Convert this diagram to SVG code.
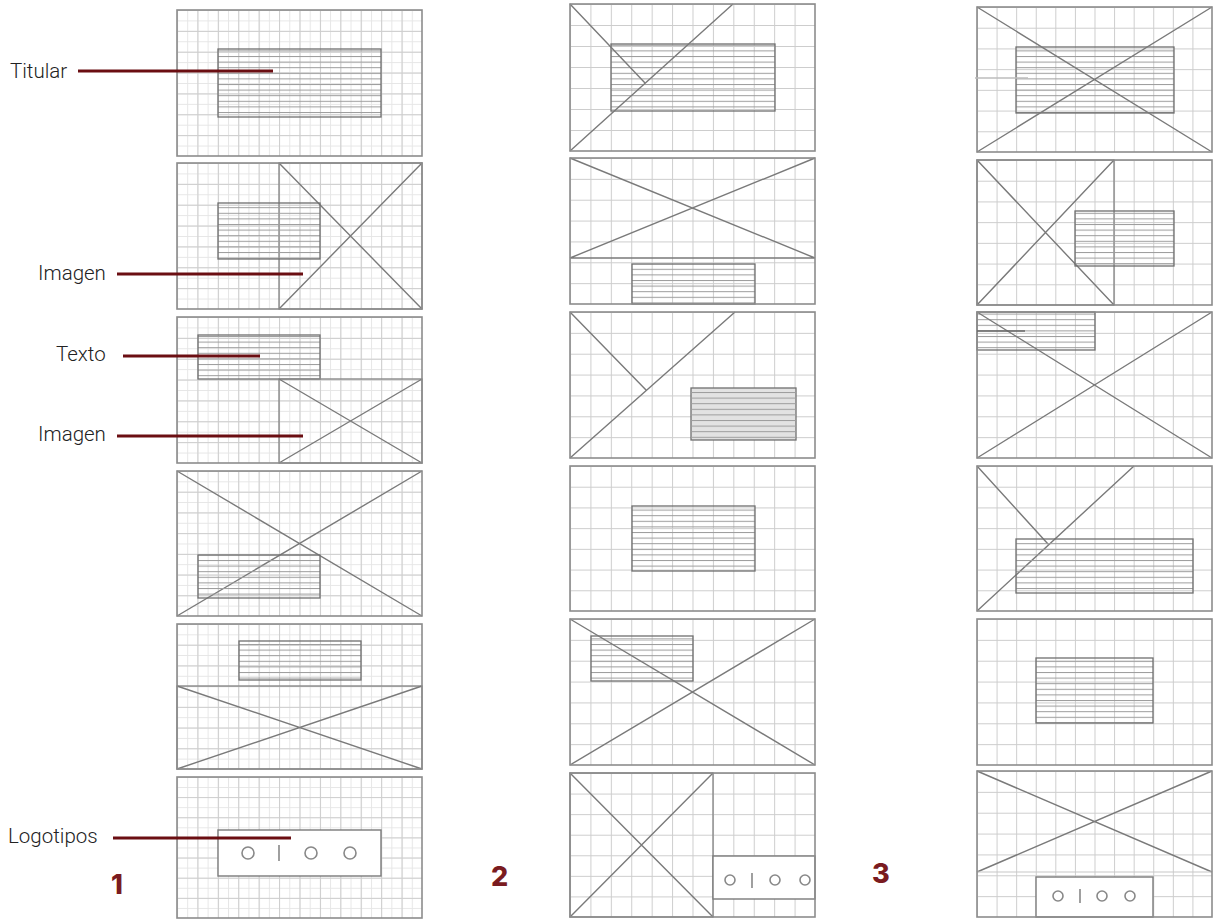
<svg xmlns="http://www.w3.org/2000/svg" width="1217" height="920" viewBox="0 0 1217 920">
<defs>
<pattern id="grid" patternUnits="objectBoundingBox" width="0.0833333" height="0.1428571">
<path d="M0 0.5H60M0.5 0V60" stroke="#cdcdcd" stroke-width="1" fill="none"/>
</pattern>
<pattern id="gridfine" patternUnits="objectBoundingBox" width="0.0416667" height="0.0714286">
<path d="M0 0.5H60M0.5 0V60" stroke="#e6e6e6" stroke-width="1" fill="none"/>
</pattern>
<pattern id="hatch" patternUnits="userSpaceOnUse" width="10" height="5.6">
<path d="M0 0.5H10" stroke="#9c9c9c" stroke-width="1" fill="none"/>
</pattern>
<linearGradient id="fade" x1="0" x2="1" y1="0" y2="0">
<stop offset="0" stop-color="#777"/>
<stop offset="1" stop-color="#fff"/>
</linearGradient>
<linearGradient id="fadeL" x1="0" x2="1" y1="0" y2="0">
<stop offset="0" stop-color="#fff"/>
<stop offset="1" stop-color="#999"/>
</linearGradient>
</defs>
<style>
.bg{fill:#fff}
.g{fill:url(#grid)}
.gf{fill:url(#gridfine)}
.fr{fill:none;stroke:#8c8c8c;stroke-width:1.6}
.im{fill:none;stroke:#8a8a8a;stroke-width:1.4}
.d{stroke:#7a7a7a;stroke-width:1.4;fill:none}
.tb{fill:url(#hatch);stroke:#6f6f6f;stroke-width:1.3}
.tbg{fill:#e2e2e2;stroke:#6f6f6f;stroke-width:1.3}
.lg{fill:#fff;stroke:#7a7a7a;stroke-width:1.4}
.c{fill:none;stroke:#888;stroke-width:1.6}
.lbl{font-family:Roboto,"Liberation Sans",sans-serif;font-size:20.5px;font-weight:300;fill:#222}
.num{font-family:Inter,"Liberation Sans",sans-serif;font-size:27px;font-weight:800;fill:#7a1b20}
.ldr{stroke:#6b0e12;stroke-width:3;fill:none}
</style>
<rect width="1217" height="920" fill="#fff"/>

<!-- Column 1 -->
<g id="c1p1">
<rect class="bg" x="177" y="10" width="245" height="146"/>
<rect class="gf" x="177" y="10" width="245" height="146"/>
<rect class="g" x="177" y="10" width="245" height="146"/>
<rect class="tb" x="218" y="49" width="163" height="68"/>
<rect class="fr" x="177" y="10" width="245" height="146"/>
</g>
<g id="c1p2">
<rect class="bg" x="177" y="163" width="245" height="146"/>
<rect class="gf" x="177" y="163" width="245" height="146"/>
<rect class="g" x="177" y="163" width="245" height="146"/>
<rect class="im" x="279" y="163" width="143" height="146"/>
<path class="d" d="M279 163L422 309M279 309L422 163"/>
<rect class="tb" x="218" y="203" width="102" height="56"/>
<rect class="fr" x="177" y="163" width="245" height="146"/>
</g>
<g id="c1p3">
<rect class="bg" x="177" y="317" width="245" height="146"/>
<rect class="gf" x="177" y="317" width="245" height="146"/>
<rect class="g" x="177" y="317" width="245" height="146"/>
<rect class="tb" x="198" y="335" width="122" height="44"/>
<rect class="im" x="279" y="379" width="143" height="84"/>
<path class="d" d="M279 379L422 463M279 463L422 379"/>
<rect class="fr" x="177" y="317" width="245" height="146"/>
</g>
<g id="c1p4">
<rect class="bg" x="177" y="471" width="245" height="145"/>
<rect class="gf" x="177" y="471" width="245" height="145"/>
<rect class="g" x="177" y="471" width="245" height="145"/>
<path class="d" d="M177 471L422 616M177 616L422 471"/>
<rect class="tb" x="198" y="555" width="122" height="43"/>
<rect class="fr" x="177" y="471" width="245" height="145"/>
</g>
<g id="c1p5">
<rect class="bg" x="177" y="624" width="245" height="145"/>
<rect class="gf" x="177" y="624" width="245" height="145"/>
<rect class="g" x="177" y="624" width="245" height="145"/>
<rect class="tb" x="239" y="641" width="122" height="39"/>
<rect class="im" x="177" y="686" width="245" height="83"/>
<path class="d" d="M177 686L422 769M177 769L422 686"/>
<rect class="fr" x="177" y="624" width="245" height="145"/>
</g>
<g id="c1p6">
<rect class="bg" x="177" y="777" width="245" height="141"/>
<rect class="gf" x="177" y="777" width="245" height="141"/>
<rect class="g" x="177" y="777" width="245" height="141"/>
<rect class="lg" x="218" y="830" width="163" height="46"/>
<circle class="c" cx="248" cy="853" r="6"/>
<path class="c" d="M279 845V861"/>
<circle class="c" cx="311" cy="853" r="6"/>
<circle class="c" cx="350" cy="853" r="6"/>
<rect class="fr" x="177" y="777" width="245" height="141"/>
</g>

<!-- Column 2 -->
<g id="c2p1">
<rect class="bg" x="570" y="4" width="245" height="147"/>
<rect class="g" x="570" y="4" width="245" height="147"/>
<rect class="tb" x="611" y="44" width="164" height="67"/>
<path class="d" d="M570 4L645 83M570 151L733 4"/>
<rect class="fr" x="570" y="4" width="245" height="147"/>
</g>
<g id="c2p2">
<rect class="bg" x="570" y="158" width="245" height="146"/>
<rect class="g" x="570" y="158" width="245" height="146"/>
<path class="d" d="M570 158L815 258M570 258L815 158M570 258H815"/>
<rect class="tb" x="632" y="264" width="123" height="40"/>
<rect class="fr" x="570" y="158" width="245" height="146"/>
</g>
<g id="c2p3">
<rect class="bg" x="570" y="312" width="245" height="146"/>
<rect class="g" x="570" y="312" width="245" height="146"/>
<path class="d" d="M570 312L646 390M570 458L735 312"/>
<rect class="tbg" x="691" y="388" width="105" height="52"/>
<rect class="tb" x="691" y="388" width="105" height="52" style="stroke:none"/>
<rect class="fr" x="570" y="312" width="245" height="146"/>
</g>
<g id="c2p4">
<rect class="bg" x="570" y="466" width="245" height="145"/>
<rect class="g" x="570" y="466" width="245" height="145"/>
<rect class="tb" x="632" y="506" width="123" height="65"/>
<rect class="fr" x="570" y="466" width="245" height="145"/>
</g>
<g id="c2p5">
<rect class="bg" x="570" y="619" width="245" height="146"/>
<rect class="g" x="570" y="619" width="245" height="146"/>
<rect class="tb" x="591" y="636" width="102" height="45"/>
<path class="d" d="M570 619L815 765M570 765L815 619"/>
<rect class="fr" x="570" y="619" width="245" height="146"/>
</g>
<g id="c2p6">
<rect class="bg" x="570" y="773" width="245" height="144"/>
<rect class="g" x="570" y="773" width="245" height="144"/>
<rect class="im" x="570" y="773" width="143" height="144"/>
<path class="d" d="M570 773L713 917M570 917L713 773"/>
<rect class="lg" x="713" y="856" width="102" height="43"/>
<circle class="c" cx="730" cy="880" r="5"/>
<path class="c" d="M752 873V888"/>
<circle class="c" cx="775" cy="880" r="5"/>
<circle class="c" cx="805" cy="880" r="5"/>
<rect class="fr" x="570" y="773" width="245" height="144"/>
</g>

<!-- Column 3 -->
<g id="c3p1">
<rect class="bg" x="977" y="7" width="235" height="145"/>
<rect class="g" x="977" y="7" width="235" height="145"/>
<rect class="tb" x="1016" y="47" width="158" height="66"/>
<path class="d" d="M977 7L1212 152M977 152L1212 7"/>
<rect class="fr" x="977" y="7" width="235" height="145"/>
</g>
<g id="c3p2">
<rect class="bg" x="977" y="160" width="235" height="145"/>
<rect class="g" x="977" y="160" width="235" height="145"/>
<rect class="im" x="977" y="160" width="137" height="145"/>
<path class="d" d="M977 160L1114 305M977 305L1114 160"/>
<rect class="tb" x="1075" y="211" width="99" height="55"/>
<rect class="fr" x="977" y="160" width="235" height="145"/>
</g>
<g id="c3p3">
<rect class="bg" x="977" y="312" width="235" height="146"/>
<rect class="g" x="977" y="312" width="235" height="146"/>
<rect class="tb" x="977" y="312" width="118" height="38"/>
<path class="d" d="M977 312L1212 458M977 458L1212 312"/>
<rect class="fr" x="977" y="312" width="235" height="146"/>
</g>
<g id="c3p4">
<rect class="bg" x="977" y="466" width="235" height="145"/>
<rect class="g" x="977" y="466" width="235" height="145"/>
<path class="d" d="M977 466L1048 544M977 611L1134 466"/>
<rect class="tb" x="1016" y="539" width="177" height="54"/>
<rect class="fr" x="977" y="466" width="235" height="145"/>
</g>
<g id="c3p5">
<rect class="bg" x="977" y="619" width="235" height="146"/>
<rect class="g" x="977" y="619" width="235" height="146"/>
<rect class="tb" x="1036" y="658" width="117" height="65"/>
<rect class="fr" x="977" y="619" width="235" height="146"/>
</g>
<g id="c3p6">
<rect class="bg" x="977" y="771" width="235" height="146"/>
<rect class="g" x="977" y="771" width="235" height="146"/>
<path class="d" d="M977 771L1212 872M977 872L1212 771"/>
<path d="M977 872H1212" stroke="#c8c8c8" stroke-width="1.2"/>
<rect class="lg" x="1036" y="877" width="117" height="40"/>
<circle class="c" cx="1058" cy="896" r="5"/>
<path class="c" d="M1080 889V903"/>
<circle class="c" cx="1102" cy="896" r="5"/>
<circle class="c" cx="1130" cy="896" r="5"/>
<rect class="fr" x="977" y="771" width="235" height="146"/>
</g>

<!-- Connectors (label leaders) -->
<g id="connectors">
<path class="ldr" d="M78 71H273"/>
<path class="ldr" d="M117 274H303"/>
<path class="ldr" d="M123 356H260"/>
<path class="ldr" d="M117 436H303"/>
<path class="ldr" d="M113 838H291"/>
<path d="M975 78H1028" stroke="#bdbdbd" stroke-width="1.5"/>
<path d="M1095 191H1185" stroke="url(#fade)" stroke-width="2.5"/>
<path d="M977 331H1025" stroke="#666" stroke-width="1.5"/>
<path d="M965 895H1053" stroke="url(#fadeL)" stroke-width="1.5"/>
</g>

<!-- Labels -->
<g id="labels">
<text class="lbl" x="10" y="78">Titular</text>
<text class="lbl" x="38" y="280">Imagen</text>
<text class="lbl" x="56" y="361">Texto</text>
<text class="lbl" x="38" y="441">Imagen</text>
<text class="lbl" x="8" y="843">Logotipos</text>
<text class="num" x="111" y="894">1</text>
<text class="num" x="491" y="886">2</text>
<text class="num" x="872" y="883">3</text>
</g>
</svg>
